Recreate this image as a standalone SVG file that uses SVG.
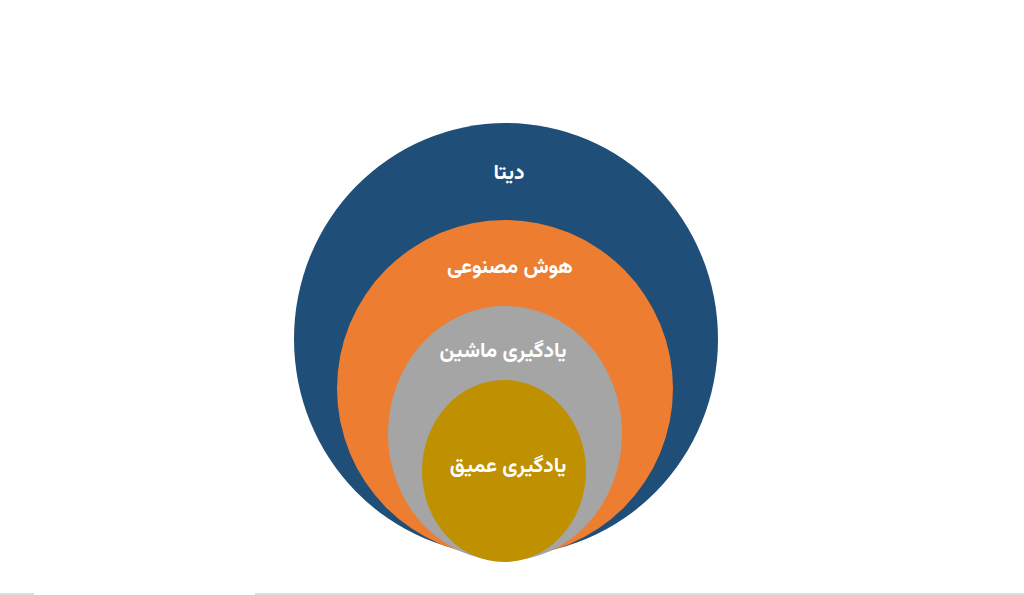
<svg xmlns="http://www.w3.org/2000/svg" width="1024" height="595" viewBox="0 0 1024 595">
<style>
.lbl{font-family:"Vazirmatn","Noto Sans Arabic","DejaVu Sans",sans-serif;font-weight:bold;font-size:21px;fill:#ffffff;text-anchor:middle;direction:rtl}
</style>
<rect x="0" y="0" width="1024" height="595" fill="#ffffff"/>
<g id="node-data">
<ellipse cx="506" cy="339" rx="212" ry="216" fill="#1F4E79"/>
<text class="lbl" x="509" y="179">دیتا</text>
</g>
<g id="node-ai">
<ellipse cx="505" cy="388.5" rx="168" ry="168.5" fill="#ED7D31"/>
<text class="lbl" x="510" y="273">هوش مصنوعی</text>
</g>
<g id="node-ml">
<ellipse cx="505" cy="433.5" rx="117" ry="127.5" fill="#A5A5A5"/>
<text class="lbl" x="503" y="357">یادگیری ماشین</text>
</g>
<g id="node-dl">
<ellipse cx="504" cy="471" rx="82" ry="91" fill="#BF9000"/>
<text class="lbl" x="508" y="472">یادگیری عمیق</text>
</g>
<g id="connectors"></g>
<g id="bottom-line" fill="#dddddd">
<rect x="0" y="593" width="34" height="2"/>
<rect x="255" y="593" width="769" height="2"/>
</g>
</svg>
